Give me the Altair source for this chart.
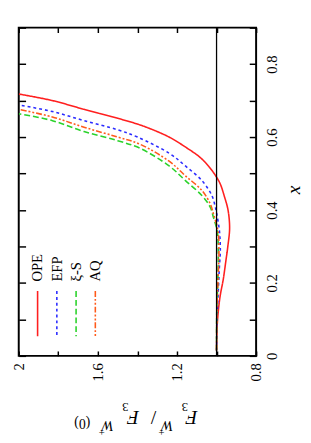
import altair as alt
import pandas as pd

# ---------------- data ----------------
series = ["OPE", "EFP", "ξ-S", "AQ"]

ope_x = [0.015, 0.09, 0.16, 0.21, 0.26, 0.30, 0.35, 0.40, 0.44, 0.47, 0.49, 0.52, 0.545, 0.57, 0.60, 0.63, 0.65, 0.676, 0.70, 0.718]
ope_f = [1.0, 0.996, 0.983, 0.966, 0.953, 0.943, 0.934, 0.942, 0.962, 0.98, 1.0, 1.04, 1.085, 1.15, 1.24, 1.37, 1.49, 1.67, 1.83, 2.0]

efp_x = [0.015, 0.11, 0.18, 0.24, 0.29, 0.34, 0.39, 0.41, 0.44, 0.48, 0.52, 0.555, 0.60, 0.62, 0.645, 0.67, 0.688]
efp_f = [1.0, 0.997, 0.991, 0.986, 0.981, 0.985, 0.999, 1.007, 1.024, 1.073, 1.156, 1.238, 1.40, 1.50, 1.67, 1.83, 2.0]

xis_x = [0.015, 0.12, 0.20, 0.28, 0.34, 0.38, 0.408, 0.439, 0.48, 0.52, 0.569, 0.59, 0.615, 0.645, 0.664]
xis_f = [1.0, 0.999, 0.994, 0.991, 0.996, 1.016, 1.032, 1.073, 1.156, 1.238, 1.386, 1.50, 1.67, 1.83, 2.0]

aq_x = [0.015, 0.13, 0.24, 0.28, 0.34, 0.39, 0.417, 0.453, 0.493, 0.533, 0.58, 0.60, 0.627, 0.655, 0.676]
aq_f = [1.0, 0.998, 0.99, 0.988, 0.992, 1.016, 1.032, 1.073, 1.156, 1.238, 1.386, 1.50, 1.67, 1.83, 2.0]

ref_line = [1.0]

f_labels = [2, 1.6, 1.2, 0.8]
f_ticks = [0.8, 1.0, 1.2, 1.4, 1.6, 1.8, 2.0]
x_labels = [0, 0.2, 0.4, 0.6, 0.8]
x_ticks = [0, 0.1, 0.2, 0.3, 0.4, 0.5, 0.6, 0.7, 0.8, 0.9]

# ---------------- styles ----------------
colors = ["#ff1f1f", "#2b2bff", "#2ad22a", "#ff5a1a"]
dashes = [[1, 0], [3, 3], [6, 3], [6, 2, 2, 2, 2, 2]]
W, H = 243, 336
OX, OY = 19, 23  # plot origin on the page
SERIF = "Liberation Serif"

rows = []
for name, xs, fs in [("OPE", ope_x, ope_f), ("EFP", efp_x, efp_f),
                     ("ξ-S", xis_x, xis_f), ("AQ", aq_x, aq_f)]:
    for xv, fv in zip(xs, fs):
        rows.append({"series": name, "xv": xv, "fv": fv})
df = pd.DataFrame(rows)
one = pd.DataFrame({"v": ref_line})

fscale = alt.Scale(domain=[0.8, 2.0], reverse=True, nice=False, zero=False)
xscale = alt.Scale(domain=[0, 0.9], nice=False, zero=False)

lines = alt.Chart(df).mark_line(strokeWidth=1.6, clip=True, interpolate="catmull-rom").encode(
    x=alt.X("fv:Q", scale=fscale,
            axis=alt.Axis(orient="bottom", values=f_labels, ticks=False, domain=False,
                          labelAngle=270, labelAlign="right", labelBaseline="middle",
                          labelPadding=7, labelFlush=False, labelOverlap=False,
                          format="~g", title=None)),
    y=alt.Y("xv:Q", scale=xscale,
            axis=alt.Axis(orient="right", values=x_labels, ticks=False, domain=False,
                          labelAngle=270, labelAlign="center", labelBaseline="top",
                          labelPadding=9, labelFlush=False, labelOverlap=False,
                          format="~g", title=None)),
    color=alt.Color("series:N", scale=alt.Scale(domain=series, range=colors), legend=None),
    strokeDash=alt.StrokeDash("series:N", scale=alt.Scale(domain=series, range=dashes), legend=None),
    order="xv:Q",
)

ticks_a = alt.Chart(df).mark_point(opacity=0).encode(
    x=alt.X("fv:Q", axis=alt.Axis(orient="bottom", offset=-H, values=f_ticks, labels=False,
                                  domain=False, tickSize=5, tickWidth=1.5, title=None)),
    y=alt.Y("xv:Q", axis=alt.Axis(orient="right", offset=-W, values=x_ticks, labels=False,
                                  domain=False, tickSize=7, tickWidth=1.5, title=None)),
)
ticks_b = alt.Chart(df).mark_point(opacity=0).encode(
    x=alt.X("fv:Q", axis=alt.Axis(orient="top", offset=-H, values=f_ticks, labels=False,
                                  domain=False, tickSize=5, tickWidth=1.5, title=None)),
    y=alt.Y("xv:Q", axis=alt.Axis(orient="left", offset=-W, values=x_ticks, labels=False,
                                  domain=False, tickSize=7, tickWidth=1.5, title=None)),
)

rule = alt.Chart(one).mark_rule(color="black", strokeWidth=1.3).encode(
    x=alt.X("v:Q", axis=None)
)

layers = [lines, ticks_a, ticks_b, rule]

# ---------------- legend (drawn by hand, rotated) ----------------
leg_x0, leg_dx = 38.3, 19.7
for i, name in enumerate(series):
    lx = leg_x0 + leg_dx * i - OX
    layers.append(
        alt.Chart(one).mark_rule(strokeWidth=1.6, color=colors[i], strokeDash=dashes[i]).encode(
            x=alt.value(lx), y=alt.value(292.7 - OY), y2=alt.value(339 - OY)
        )
    )
    layers.append(
        alt.Chart(one).mark_text(angle=270, align="left", baseline="alphabetic",
                                 font=SERIF, fontSize=15, color="black").encode(
            x=alt.value(lx + 5), y=alt.value(283 - OY), text=alt.value(name)
        )
    )

# ---------------- x title (right side, rotated) ----------------
layers.append(
    alt.Chart(one).mark_text(angle=270, align="center", baseline="middle",
                             font=SERIF, fontSize=20, fontStyle="italic", color="black").encode(
        x=alt.value(301 - OX), y=alt.value(189 - OY), text=alt.value("x")
    )
)

# ---------------- y title, upside down, built from pieces ----------------
title_parts = [
    ("F", 196, 415, 20, "italic"),
    ("3", 189, 407, 13, "normal"),
    ("W", 171, 426, 15, "italic"),
    ("+", 165, 434, 11, "normal"),
    ("/", 157, 415, 20, "normal"),
    ("F", 136, 415, 20, "italic"),
    ("3", 128, 407, 13, "normal"),
    ("W", 110, 426, 15, "italic"),
    ("+", 104, 434, 11, "normal"),
    ("(0)", 84, 424, 14, "normal"),
]
for txt, px, py, fs, st in title_parts:
    layers.append(
        alt.Chart(one).mark_text(angle=180, align="center", baseline="alphabetic",
                                 font=SERIF, fontSize=fs, fontStyle=st, color="black").encode(
            x=alt.value(px - OX), y=alt.value(py - OY), text=alt.value(txt)
        )
    )

chart = alt.layer(*layers).resolve_axis(x="independent", y="independent").properties(
    width=W, height=H,
    autosize=alt.AutoSizeParams(type="none"),
    padding={"left": OX - 8, "top": OY - 8, "right": 48, "bottom": 80},
).configure_view(stroke="black", strokeWidth=2).configure_axis(
    grid=False, labelFont=SERIF, labelFontSize=15, labelColor="black",
    tickColor="black", titleColor="black"
)

chart.save("out.html", embed_options={"renderer": "svg", "actions": False})
